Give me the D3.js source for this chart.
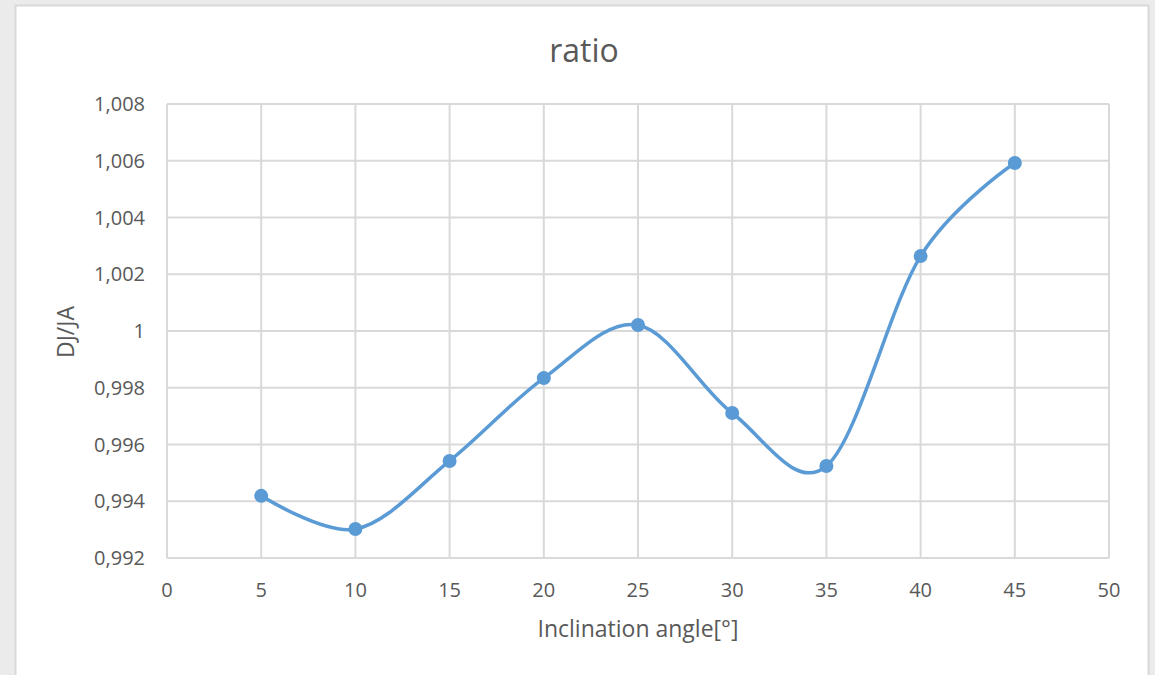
<!DOCTYPE html>
<html>
<head>
<meta charset="utf-8">
<script src="https://cdn.jsdelivr.net/npm/d3@7"></script>
<style>
  body { margin: 0; background: #ebebeb; }
  svg { display: block; }
</style>
</head>
<body>
<svg id="chart" width="1155" height="675"></svg>
<script>
var angles = [5, 10, 15, 20, 25, 30, 35, 40, 45];
var ratios = [0.99419, 0.99302, 0.99542, 0.99834, 1.00021, 0.99711, 0.99524, 1.00264, 1.00592];
var xTicks = [0, 5, 10, 15, 20, 25, 30, 35, 40, 45, 50];
var yTicks = [0.992, 0.994, 0.996, 0.998, 1, 1.002, 1.004, 1.006, 1.008];

var svg = d3.select("#chart");
var font = "'Open Sans', sans-serif";
var txt = "#595959";
var grid = "#d9d9d9";

// chart area
svg.append("rect").attr("x", 15.5).attr("y", 5.5).attr("width", 1133).attr("height", 700)
   .style("fill", "#fff").style("stroke", "#d9d9d9").style("stroke-width", 2);

var x = d3.scaleLinear().domain([0, 50]).range([167, 1109]);
var y = d3.scaleLinear().domain([0.992, 1.008]).range([558, 104]);

var fmt = function(d) { return d3.format("")(+d.toFixed(3)).replace(".", ","); };

// gridlines
svg.selectAll(".gx").data(xTicks).enter().append("line")
   .attr("x1", function(d) { return x(d); }).attr("x2", function(d) { return x(d); })
   .attr("y1", y(0.992)).attr("y2", y(1.008))
   .style("stroke", grid).style("stroke-width", 2);
svg.selectAll(".gy").data(yTicks).enter().append("line")
   .attr("x1", x(0)).attr("x2", x(50))
   .attr("y1", function(d) { return y(d); }).attr("y2", function(d) { return y(d); })
   .style("stroke", grid).style("stroke-width", 2);

// tick labels
svg.selectAll(".ty").data(yTicks).enter().append("text")
   .attr("x", 145).attr("y", function(d) { return y(d); }).attr("dy", "0.35em")
   .attr("text-anchor", "end").text(fmt)
   .style("font-family", font).style("font-size", "20px").style("fill", txt);
svg.selectAll(".tx").data(xTicks).enter().append("text")
   .attr("x", function(d) { return x(d); }).attr("y", 590).attr("dy", "0.35em")
   .attr("text-anchor", "middle").text(function(d) { return d; })
   .style("font-family", font).style("font-size", "20px").style("fill", txt);

// titles
svg.append("text").attr("x", 584).attr("y", 51).attr("dy", "0.35em").attr("text-anchor", "middle")
   .text("ratio").style("font-family", font).style("font-size", "32px").style("fill", txt);
svg.append("text").attr("x", 638).attr("y", 629).attr("dy", "0.35em").attr("text-anchor", "middle")
   .text("Inclination angle[°]").style("font-family", font).style("font-size", "23px").style("fill", txt);
svg.append("text").attr("transform", "translate(66,332) rotate(-90)").attr("dy", "0.35em").attr("text-anchor", "middle")
   .text("DJ/JA").style("font-family", font).style("font-size", "23px").style("fill", txt);

// series
var pts = angles.map(function(a, i) { return [a, ratios[i]]; });
var line = d3.line().x(function(d) { return x(d[0]); }).y(function(d) { return y(d[1]); })
   .curve(d3.curveCardinal.tension(0));
svg.append("path").datum(pts).attr("d", line)
   .style("fill", "none").style("stroke", "#5b9bd5").style("stroke-width", 3.5);
svg.selectAll(".pt").data(pts).enter().append("circle")
   .attr("cx", function(d) { return x(d[0]); }).attr("cy", function(d) { return y(d[1]); })
   .attr("r", 7).style("fill", "#5b9bd5");
</script>
</body>
</html>
